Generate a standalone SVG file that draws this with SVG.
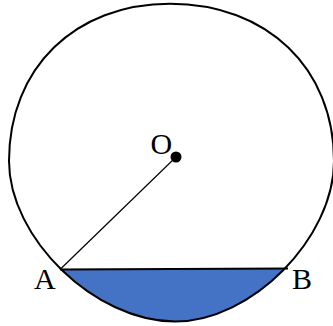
<svg xmlns="http://www.w3.org/2000/svg" width="333" height="326" viewBox="0 0 333 326">
<style>
.lbl{font-family:"Liberation Serif","Times New Roman",serif;font-size:30px;fill:#000}
.outline{fill:none;stroke:#000;stroke-width:2}
</style>
<defs>
<path id="shape" d="M334 161 C334 238.2 251.5 321.5 175 321.5 C95.1 321.5 9 238.2 9 161 C9 68.2 75 3.7 170 3.7 C266.8 3.7 334 68.2 334 161 Z"/>
<clipPath id="below-chord">
<polygon points="0,269.76 340,268.27 340,330 0,330"/>
</clipPath>
</defs>
<rect width="333" height="326" fill="#fff"/>
<g id="segment">
<use href="#shape" fill="#4472C4" clip-path="url(#below-chord)"/>
</g>
<g id="circle">
<use href="#shape" class="outline"/>
</g>
<g id="connectors">
<line id="radius-OA" x1="60" y1="269.5" x2="176" y2="157" stroke="#000" stroke-width="1.2"/>
<line id="chord-AB" x1="60" y1="269.5" x2="288" y2="268.5" stroke="#000" stroke-width="2.2"/>
</g>
<g id="point-O">
<circle cx="176" cy="157" r="5.5" fill="#000"/>
<text class="lbl" x="150.5" y="154">O</text>
</g>
<g id="point-A">
<text class="lbl" x="34" y="288.5">A</text>
</g>
<g id="point-B">
<text class="lbl" x="292" y="288.5">B</text>
</g>
</svg>
